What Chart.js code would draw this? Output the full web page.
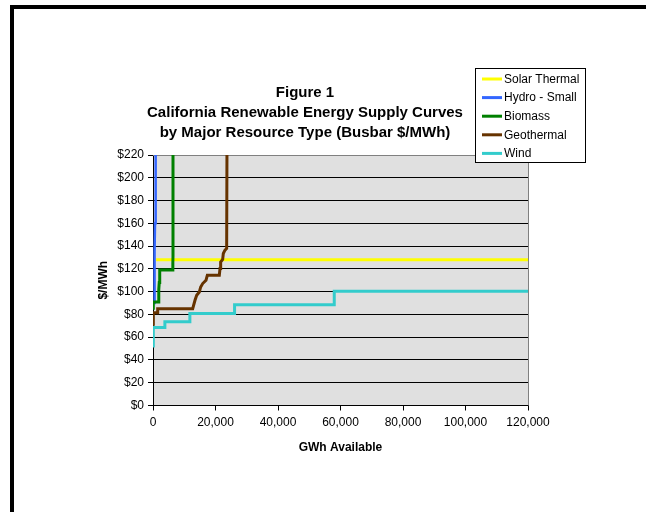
<!DOCTYPE html>
<html>
<head>
<meta charset="utf-8">
<script src="https://cdn.jsdelivr.net/npm/chart.js@4"></script>
<style>
  html, body { margin: 0; padding: 0; background: #fff; }
  #wrap { width: 646px; height: 512px; position: relative; }
</style>
</head>
<body>
<div id="wrap"><canvas id="c" width="646" height="512"></canvas></div>
<script>
// ---- Data (GWh available, busbar $/MWh) ----
const seriesNames = ['Solar Thermal', 'Hydro - Small', 'Biomass', 'Geothermal', 'Wind'];
const seriesColors = ['#FFFF00', '#3366FF', '#008000', '#663300', '#33CCCC'];

const solarGwh  = [1000, 120000];
const solarPrice = [128, 128];

const hydroGwh   = [350, 450, 550, 650, 750, 850, 950];
const hydroPrice = [90, 110, 135, 160, 190, 215, 250];

const biomassGwh   = [100, 100, 1700, 1800, 1900, 2000, 2100, 2200, 6300, 6350, 6400, 6400];
const biomassPrice = [84, 91, 91, 96, 102, 108, 114, 119, 119, 125, 131, 250];

const geoGwh   = [100, 100, 1500, 1500, 12700, 13440, 13980, 14830, 15260, 15900, 16960, 17390, 21220, 21440, 21650, 22290, 22500, 23040, 23570, 23700];
const geoPrice = [70, 81.5, 81.5, 85, 85, 92.4, 96.8, 99.7, 104.1, 107.1, 110, 114.4, 114.4, 120.3, 126, 128.2, 133.5, 136.4, 137.9, 250];

const windGwh   = [100, 100, 3800, 3800, 11800, 11800, 26100, 26100, 58000, 58000, 120000];
const windPrice = [51, 68.5, 68.5, 73.5, 73.5, 80.7, 80.7, 88.5, 88.5, 100.3, 100.3];

const xTicks = [0, 20000, 40000, 60000, 80000, 100000, 120000];
const yTicks = [0, 20, 40, 60, 80, 100, 120, 140, 160, 180, 200, 220];

const titleLines = ['Figure 1', 'California Renewable Energy Supply Curves', 'by Major Resource Type (Busbar $/MWh)'];
const xTitle = 'GWh Available';
const yTitle = '$/MWh';

// ---- build ----
const FONT = '"Liberation Sans", Arial, Helvetica, sans-serif';
const zip = (xs, ys) => xs.map((x, i) => ({ x: x, y: ys[i] }));
const allX = [solarGwh, hydroGwh, biomassGwh, geoGwh, windGwh];
const allY = [solarPrice, hydroPrice, biomassPrice, geoPrice, windPrice];

const datasets = seriesNames.map((name, i) => ({
  label: name,
  data: zip(allX[i], allY[i]),
  borderColor: seriesColors[i],
  backgroundColor: seriesColors[i],
  borderWidth: i === 1 ? 2.5 : 3,
  showLine: true,
  pointRadius: 0,
  pointHoverRadius: 0,
  tension: 0,
  order: seriesNames.length - i
}));

const decor = {
  id: 'decor',
  beforeDraw(chart) {
    const { ctx, chartArea: a } = chart;
    ctx.save();
    ctx.fillStyle = '#fff';
    ctx.fillRect(0, 0, chart.width, chart.height);
    ctx.fillStyle = '#000';
    ctx.fillRect(10, 5, chart.width - 10, 4);
    ctx.fillRect(10, 5, 4, chart.height - 5);
    ctx.fillStyle = '#e0e0e0';
    ctx.fillRect(a.left, a.top, a.right - a.left, a.bottom - a.top);
    ctx.restore();
  },
  beforeDatasetsDraw(chart) {
    const { ctx, chartArea: a } = chart;
    ctx.save();
    ctx.strokeStyle = '#808080';
    ctx.lineWidth = 1;
    ctx.beginPath();
    ctx.moveTo(a.left, a.top + 0.5);
    ctx.lineTo(a.right + 0.5, a.top + 0.5);
    ctx.lineTo(a.right + 0.5, a.bottom);
    ctx.stroke();
    ctx.restore();
  },
  afterDraw(chart) {
    const { ctx } = chart;
    ctx.save();
    // title
    ctx.fillStyle = '#000';
    ctx.font = 'bold 15px ' + FONT;
    ctx.textAlign = 'center';
    ctx.textBaseline = 'middle';
    titleLines.forEach((t, i) => ctx.fillText(t, 305, 93 + i * 20));
    // legend
    const lx = 475.5, ly = 68.5, lw = 110, lh = 94;
    ctx.fillStyle = '#fff';
    ctx.fillRect(lx, ly, lw, lh);
    ctx.strokeStyle = '#000';
    ctx.lineWidth = 1;
    ctx.strokeRect(lx, ly, lw, lh);
    ctx.font = '12px ' + FONT;
    ctx.textAlign = 'left';
    chart.data.datasets.forEach((ds, i) => {
      const y = 79 + i * 18.6;
      ctx.strokeStyle = ds.borderColor;
      ctx.lineWidth = 3;
      ctx.beginPath();
      ctx.moveTo(482, y);
      ctx.lineTo(502, y);
      ctx.stroke();
      ctx.fillStyle = '#000';
      ctx.fillText(ds.label, 504, y + 0.5);
    });
    ctx.restore();
  }
};

new Chart(document.getElementById('c'), {
  type: 'scatter',
  data: { datasets: datasets },
  options: {
    responsive: false,
    animation: false,
    devicePixelRatio: 1,
    layout: { padding: { left: 92, top: 155, right: 118, bottom: 53.5 } },
    plugins: { legend: { display: false }, tooltip: { enabled: false }, title: { display: false } },
    scales: {
      x: {
        type: 'linear',
        min: 0, max: 120000,
        afterFit: s => { s.height = 53; },
        afterBuildTicks: s => { s.ticks = xTicks.map(v => ({ value: v })); },
        ticks: {
          color: '#000',
          font: { family: FONT, size: 12 },
          padding: 5,
          maxRotation: 0,
          callback: v => v.toLocaleString('en-US')
        },
        grid: { display: true, drawOnChartArea: false, drawTicks: true, tickLength: 5, color: '#000' },
        border: { display: true, color: '#000', width: 1 },
        title: { display: true, text: xTitle, color: '#000', font: { family: FONT, size: 12, weight: 'bold' }, padding: { top: 4, bottom: 4 } }
      },
      y: {
        type: 'linear',
        min: 0, max: 220,
        afterFit: s => { s.width = 61; },
        afterBuildTicks: s => { s.ticks = yTicks.map(v => ({ value: v })); },
        ticks: {
          color: '#000',
          font: { family: FONT, size: 12 },
          padding: 4,
          callback: v => '$' + v
        },
        grid: { display: true, drawOnChartArea: true, drawTicks: true, tickLength: 5, color: '#000', lineWidth: 1 },
        border: { display: true, color: '#000', width: 1 },
        title: { display: true, text: yTitle, color: '#000', font: { family: FONT, size: 12, weight: 'bold' }, padding: { top: 4, bottom: 4 } }
      }
    }
  },
  plugins: [decor]
});
</script>
</body>
</html>
